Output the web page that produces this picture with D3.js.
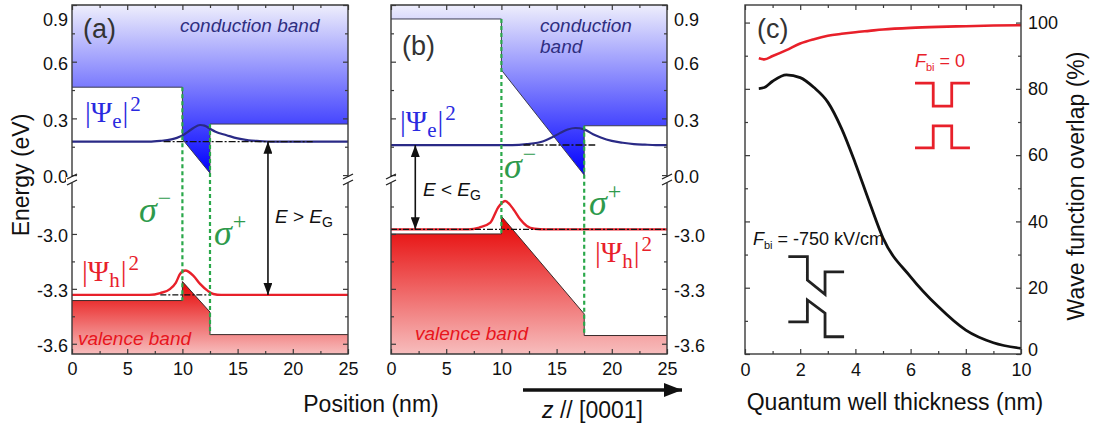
<!DOCTYPE html>
<html>
<head>
<meta charset="utf-8">
<script src="https://cdn.jsdelivr.net/npm/d3@7"></script>
<style>
  body { margin: 0; background: #fff; }
  svg { display: block; }
  text { font-family: "Liberation Sans", Arial, sans-serif; }
</style>
</head>
<body>
<svg id="fig" width="1100" height="426"></svg>
<script>
// ---- position / energy axes (panels a, b) ----
const posTicks = [0, 5, 10, 15, 20, 25];
const posMinor = [2.5, 7.5, 12.5, 17.5, 22.5];
const eTicksUpper = [0.0, 0.3, 0.6, 0.9];
const eMinorUpper = [0.15, 0.45, 0.75];
const eTicksLower = [-3.6, -3.3, -3.0];
const eMinorLower = [-3.45, -3.15, -2.85];

// ---- panel (a): no built-in field, 2.5 nm well ----
const cbA = [[0, 0.465], [10, 0.465], [10, 0.19], [12.5, 0.01], [12.5, 0.27], [25, 0.27]];
const vbA = [[0, -3.364], [10, -3.364], [10, -3.26], [12.5, -3.427], [12.5, -3.55], [25, -3.55]];
const levelEA = 0.177;
const levelHA = -3.333;
const psiEA = [[0, 0], [7, 0], [8, 0.004], [9, 0.012], [9.5, 0.02], [10, 0.032], [10.5, 0.052],
  [11, 0.072], [11.6, 0.088], [12, 0.085], [12.5, 0.068], [13, 0.052], [14, 0.034], [15, 0.017],
  [16, 0.007], [17, 0.003], [18, 0], [25, 0]];
const psiHA = [[0, 0], [7, 0], [8, 0.01], [8.9, 0.033], [9.4, 0.066], [9.8, 0.115], [10.26, 0.133],
  [11, 0.104], [11.6, 0.06], [12.3, 0.022], [12.8, 0.005], [13.5, 0], [25, 0]];

// ---- panel (b): built-in field, 7.5 nm well ----
const cbB = [[0, 0.826], [10, 0.826], [10, 0.556], [17.5, 0.0], [17.5, 0.261], [25, 0.261]];
const vbB = [[0, -3.0], [10, -3.0], [10, -2.903], [17.5, -3.437], [17.5, -3.555], [25, -3.555]];
const levelEB = 0.159;
const levelHB = -2.975;
const psiEB = [[0, 0], [11, 0], [12.3, 0.005], [13.8, 0.02], [14.5, 0.038], [15.3, 0.063], [16, 0.082],
  [16.7, 0.09], [17.5, 0.083], [18.3, 0.057], [19, 0.04], [20, 0.022], [21, 0.012], [22, 0.005],
  [23, 0.002], [24, 0], [25, 0]];
const psiHB = [[0, 0], [7, 0], [8, 0.01], [9, 0.037], [9.7, 0.119], [10.33, 0.155], [11.1, 0.109],
  [11.7, 0.055], [12.3, 0.018], [13, 0.003], [14, 0], [25, 0]];

// ---- panel (c): overlap vs. well thickness ----
const thickness = [0.5, 0.7, 1.0, 1.5, 2.0, 2.5, 3.0, 3.5, 4.0, 4.5, 5.0, 6.0, 7.0, 8.0, 9.0, 10.0];
const overlapNoField = [89.2, 88.9, 89.9, 91.7, 93.7, 95.0, 96.0, 96.6, 97.1, 97.5, 97.9, 98.4, 98.7, 98.9, 99.1, 99.2];
const overlapField = [80.1, 80.4, 82.3, 84.2, 83.4, 80.4, 76.0, 68.0, 57.5, 46.0, 35.0, 23.3, 14.3, 7.2, 3.4, 1.7];
const thickTicks = [0, 2, 4, 6, 8, 10];
const thickMinor = [1, 3, 5, 7, 9];
const overlapTicks = [0, 20, 40, 60, 80, 100];
const overlapMinor = [10, 30, 50, 70, 90];
// schematic band profiles drawn inside panel (c), in its own axis units
const iconFlatCB = [[6.16, 81.7], [6.82, 81.7], [6.82, 74.8], [7.49, 74.8], [7.49, 81.7], [8.15, 81.7]];
const iconFlatVB = [[6.16, 62.2], [6.82, 62.2], [6.82, 68.8], [7.49, 68.8], [7.49, 62.2], [8.15, 62.2]];
const iconFieldCB = [[1.57, 29.4], [2.26, 29.4], [2.26, 22.3], [2.90, 18.0], [2.90, 24.8], [3.59, 24.8]];
const iconFieldVB = [[1.57, 9.7], [2.26, 9.7], [2.26, 16.3], [2.90, 12.3], [2.90, 5.2], [3.59, 5.2]];

const BLUE_LINE = "#2a2a86";
const RED = "#e8202a";
const GREEN = "#2aa84a";
const FRAME = "#3a3a3a";

const svg = d3.select("#fig");
const defs = svg.append("defs");

function vGrad(id, top, bottom) {
  const g = defs.append("linearGradient").attr("id", id)
    .attr("x1", 0).attr("y1", 0).attr("x2", 0).attr("y2", 1);
  g.append("stop").attr("offset", 0).attr("stop-color", top);
  g.append("stop").attr("offset", 1).attr("stop-color", bottom);
}
vGrad("cbFill", "#eeeefc", "#0000ff");
vGrad("vbFill", "#e60000", "#f7bdbd");

defs.append("marker").attr("id", "tip").attr("viewBox", "0 0 12 9")
  .attr("refX", 12).attr("refY", 4.5).attr("markerWidth", 12).attr("markerHeight", 9)
  .attr("markerUnits", "userSpaceOnUse").attr("orient", "auto-start-reverse")
  .append("path").attr("d", "M0,0L12,4.5L0,9Z").attr("fill", "#111");
defs.append("marker").attr("id", "bigTip").attr("viewBox", "0 0 18 14")
  .attr("refX", 18).attr("refY", 7).attr("markerWidth", 18).attr("markerHeight", 14)
  .attr("markerUnits", "userSpaceOnUse").attr("orient", "auto")
  .append("path").attr("d", "M0,0L18,7L0,14Z").attr("fill", "#111");

// energy axis with a break between the conduction and valence band ranges
const eUp = d3.scaleLinear([-0.025, 0.9], [179.8, 5]);
const eLo = d3.scaleLinear([-3.656, -2.72], [354, 182.7]);
const yE = e => (e > -1.5 ? eUp(e) : eLo(e));
const BREAK_Y = 180;
const fmt1 = d => d.toFixed(1);

function styleAxis(sel, size) {
  sel.select(".domain").remove();
  sel.selectAll(".tick line").attr("stroke", FRAME).attr("stroke-width", 1.2);
  sel.selectAll(".tick text").attr("fill", "#111").style("font-size", size || "18px")
    .style("font-family", "Liberation Sans, Arial, sans-serif");
}

function breakMark(g, x) {
  g.append("rect").attr("x", x - 6).attr("y", BREAK_Y - 3).attr("width", 12).attr("height", 6).attr("fill", "#fff");
  [-3, 3].forEach(off => {
    g.append("line").attr("x1", x - 5).attr("y1", BREAK_Y + off + 2).attr("x2", x + 5).attr("y2", BREAK_Y + off - 3)
      .attr("stroke", "#222").attr("stroke-width", 1.3);
  });
}

function energyPanel(o) {
  const x = d3.scaleLinear([0, 25], o.range);
  const g = svg.append("g");
  const [x0, x1] = o.range;
  const yTop = eUp(0.9), yBot = eLo(-3.656);

  // band fills
  g.append("path").datum(o.cb)
    .attr("d", d3.area().x(d => x(d[0])).y0(yTop).y1(d => yE(d[1])))
    .attr("fill", "url(#cbFill)");
  g.append("path").datum(o.vb)
    .attr("d", d3.area().x(d => x(d[0])).y0(yBot).y1(d => yE(d[1])))
    .attr("fill", "url(#vbFill)");
  const edge = d3.line().x(d => x(d[0])).y(d => yE(d[1]));
  g.append("path").datum(o.cb).attr("d", edge).attr("fill", "none").attr("stroke", "#3c3c50").attr("stroke-width", 1);
  g.append("path").datum(o.vb).attr("d", edge).attr("fill", "none").attr("stroke", "#3a2a2a").attr("stroke-width", 1);

  // wave functions on their energy levels
  const psiLine = lvl => d3.line().x(d => x(d[0])).y(d => yE(lvl + d[1])).curve(d3.curveMonotoneX);
  g.append("path").datum(o.psiE).attr("d", psiLine(o.levelE)).attr("fill", "none")
    .attr("stroke", BLUE_LINE).attr("stroke-width", 2.2);
  g.append("path").datum(o.psiH).attr("d", psiLine(o.levelH)).attr("fill", "none")
    .attr("stroke", RED).attr("stroke-width", 2.4);

  // energy levels
  g.append("line").attr("x1", x(o.dashE[0])).attr("x2", x(o.dashE[1]))
    .attr("y1", yE(o.levelE)).attr("y2", yE(o.levelE))
    .attr("stroke", "#111").attr("stroke-width", 1.4).attr("stroke-dasharray", "7,2,2,2");
  g.append("line").attr("x1", x(o.dashH[0])).attr("x2", x(o.dashH[1]))
    .attr("y1", yE(o.levelH)).attr("y2", yE(o.levelH))
    .attr("stroke", "#111").attr("stroke-width", 1.4).attr("stroke-dasharray", "6,2,2,2");

  // well interfaces
  const steps = d3.groups(o.cb, d => d[0]).filter(([, v]) => v.length > 1).map(([p]) => p);
  steps.forEach(p => {
    const top = d3.max(o.cb.filter(d => d[0] === p), d => d[1]);
    const bot = d3.min(o.vb.filter(d => d[0] === p), d => d[1]);
    g.append("line").attr("x1", x(p)).attr("x2", x(p)).attr("y1", yE(top)).attr("y2", yE(bot))
      .attr("stroke", GREEN).attr("stroke-width", 2.2).attr("stroke-dasharray", "4,3");
  });

  // transition arrow
  g.append("line").attr("x1", x(o.arrowAt)).attr("x2", x(o.arrowAt))
    .attr("y1", yE(o.levelE)).attr("y2", yE(o.levelH))
    .attr("stroke", "#111").attr("stroke-width", 1.6)
    .attr("marker-start", "url(#tip)").attr("marker-end", "url(#tip)");

  // ticks (pointing inwards on all sides)
  const axes = [
    [d3.axisBottom(x).tickValues(posTicks).tickSize(-5).tickPadding(8), yBot, true],
    [d3.axisBottom(x).tickValues(posMinor).tickSize(-3).tickFormat(""), yBot, false],
    [d3.axisTop(x).tickValues(posTicks).tickSize(-5).tickFormat(""), yTop, false],
    [d3.axisTop(x).tickValues(posMinor).tickSize(-3).tickFormat(""), yTop, false]
  ];
  axes.forEach(([ax, y]) => g.append("g").attr("transform", `translate(0,${y})`).call(ax).call(styleAxis));
  const labelSide = o.labelsRight ? x1 : x0;
  [[x0, d3.axisLeft], [x1, d3.axisRight]].forEach(([xp, mk]) => {
    const lab = xp === labelSide;
    [[eUp, eTicksUpper, eMinorUpper], [eLo, eTicksLower, eMinorLower]].forEach(([sc, maj, mnr]) => {
      g.append("g").attr("transform", `translate(${xp},0)`)
        .call(mk(sc).tickValues(maj).tickSize(-5).tickPadding(lab ? (o.labelsRight ? 7 : 4) : 0)
          .tickFormat(lab ? fmt1 : ""))
        .call(styleAxis)
        .call(s => s.selectAll(".tick text").filter(d => d === 0.9).attr("dy", "1.05em"))
        .call(s => s.selectAll(".tick text").attr("transform", "translate(0,2)"));
      g.append("g").attr("transform", `translate(${xp},0)`)
        .call(mk(sc).tickValues(mnr).tickSize(-3).tickFormat("")).call(styleAxis);
    });
  });

  // frame
  g.append("path").attr("fill", "none").attr("stroke", FRAME).attr("stroke-width", 1.4)
    .attr("d", `M${x0},${BREAK_Y}V${yTop}H${x1}V${BREAK_Y}M${x0},${BREAK_Y}V${yBot}H${x1}V${BREAK_Y}`);
  breakMark(g, x0);
  breakMark(g, x1);
  return { g, x };
}

const A = energyPanel({ range: [72, 348], cb: cbA, vb: vbA, levelE: levelEA, levelH: levelHA,
  psiE: psiEA, psiH: psiHA, dashE: [8.3, 21.8], dashH: [8, 12.6], arrowAt: 17.75, labelsRight: false });
const B = energyPanel({ range: [391, 667], cb: cbB, vb: vbB, levelE: levelEB, levelH: levelHB,
  psiE: psiEB, psiH: psiHB, dashE: [12, 18.5], dashH: [0, 25], arrowAt: 2.2, labelsRight: true });

// ---- text annotations ----
function txt(x, y, s, opt = {}) {
  const t = svg.append("text").attr("x", x).attr("y", y).text(s)
    .attr("fill", opt.fill || "#111").style("font-size", (opt.size || 18) + "px");
  if (opt.italic) t.style("font-style", "italic");
  if (opt.anchor) t.attr("text-anchor", opt.anchor);
  if (opt.transform) t.attr("transform", opt.transform).attr("x", null).attr("y", null);
  return t;
}
function psiLabel(x, y, sub, color) {
  const t = svg.append("text").attr("x", x).attr("y", y).attr("fill", color)
    .style("font-family", "'Liberation Serif', 'DejaVu Serif', serif").style("font-size", "29px");
  t.append("tspan").text("|Ψ");
  t.append("tspan").style("font-size", "21px").attr("dy", 6).text(sub);
  t.append("tspan").attr("dy", -6).attr("dx", 1).text("|");
  t.append("tspan").style("font-size", "21px").attr("dy", -11).attr("dx", 2).text("2");
}
function sigmaLabel(x, y, sign) {
  const t = svg.append("text").attr("x", x).attr("y", y).attr("fill", "#2e9a4c")
    .style("font-family", "'Liberation Serif', 'DejaVu Serif', serif");
  t.append("tspan").style("font-size", "36px").style("font-style", "italic").text("σ");
  t.append("tspan").style("font-size", "24px").attr("dy", -16).attr("dx", 1).text(sign);
}
function gapLabel(x, y, rel) {
  const t = svg.append("text").attr("x", x).attr("y", y).attr("fill", "#111").style("font-size", "19px");
  t.append("tspan").style("font-style", "italic").text("E");
  t.append("tspan").text(` ${rel} `);
  t.append("tspan").style("font-style", "italic").text("E");
  t.append("tspan").style("font-size", "14px").attr("dy", 4).text("G");
}

// panel (a)
txt(83, 38, "(a)", { size: 27, fill: "#333" });
txt(180, 32, "conduction band", { size: 19, italic: true, fill: "#2e2e80" });
txt(78, 345, "valence band", { size: 19, italic: true, fill: "#e8141c" });
psiLabel(85, 122, "e", "#2a2ae0");
psiLabel(82, 281, "h", RED);
sigmaLabel(139, 222, "−");
sigmaLabel(214, 245, "+");
gapLabel(275, 223, ">");

// panel (b)
txt(402, 55, "(b)", { size: 27, fill: "#333" });
txt(540, 32, "conduction", { size: 19, italic: true, fill: "#2e2e80" });
txt(540, 53, "band", { size: 19, italic: true, fill: "#2e2e80" });
txt(415, 340, "valence band", { size: 19, italic: true, fill: "#e8141c" });
psiLabel(400, 131, "e", "#2a2ae0");
psiLabel(595, 262, "h", RED);
sigmaLabel(504, 178, "−");
sigmaLabel(589, 215, "+");
gapLabel(423, 196, "<");

// shared titles
txt(0, 0, "Energy (eV)", { size: 23, anchor: "middle", transform: "translate(29,175) rotate(-90)" });
txt(371, 412, "Position (nm)", { size: 23, anchor: "middle" });

// growth direction arrow
svg.append("line").attr("x1", 523).attr("x2", 682).attr("y1", 390).attr("y2", 390)
  .attr("stroke", "#111").attr("stroke-width", 3.5).attr("marker-end", "url(#bigTip)");
{
  const t = svg.append("text").attr("x", 542).attr("y", 418).attr("fill", "#111").style("font-size", "23px");
  t.append("tspan").style("font-style", "italic").text("z");
  t.append("tspan").text(" // [0001]");
}

// ---- panel (c) ----
{
  const xC = d3.scaleLinear([0, 10], [745, 1021]);
  const yC = d3.scaleLinear([0, 105.3], [354, 5]);
  const g = svg.append("g");
  const [x0, x1] = xC.range();
  const [yb, yt] = yC.range();

  const ln = d3.line().x(d => xC(d[0])).y(d => yC(d[1])).curve(d3.curveMonotoneX);
  g.append("path").datum(d3.zip(thickness, overlapNoField)).attr("d", ln)
    .attr("fill", "none").attr("stroke", RED).attr("stroke-width", 2.6);
  g.append("path").datum(d3.zip(thickness, overlapField)).attr("d", ln)
    .attr("fill", "none").attr("stroke", "#111").attr("stroke-width", 2.8);

  const icon = d3.line().x(d => xC(d[0])).y(d => yC(d[1]));
  [iconFlatCB, iconFlatVB].forEach(p => g.append("path").datum(p).attr("d", icon)
    .attr("fill", "none").attr("stroke", RED).attr("stroke-width", 2.8));
  [iconFieldCB, iconFieldVB].forEach(p => g.append("path").datum(p).attr("d", icon)
    .attr("fill", "none").attr("stroke", "#222").attr("stroke-width", 2.8));

  const axes = [
    [d3.axisBottom(xC).tickValues(thickTicks).tickSize(-5).tickPadding(9), `translate(0,${yb})`],
    [d3.axisBottom(xC).tickValues(thickMinor).tickSize(-3).tickFormat(""), `translate(0,${yb})`],
    [d3.axisTop(xC).tickValues(thickTicks).tickSize(-5).tickFormat(""), `translate(0,${yt})`],
    [d3.axisTop(xC).tickValues(thickMinor).tickSize(-3).tickFormat(""), `translate(0,${yt})`],
    [d3.axisRight(yC).tickValues(overlapTicks).tickSize(-5).tickPadding(7), `translate(${x1},0)`],
    [d3.axisRight(yC).tickValues(overlapMinor).tickSize(-3).tickFormat(""), `translate(${x1},0)`],
    [d3.axisLeft(yC).tickValues(overlapTicks).tickSize(-5).tickFormat(""), `translate(${x0},0)`],
    [d3.axisLeft(yC).tickValues(overlapMinor).tickSize(-3).tickFormat(""), `translate(${x0},0)`]
  ];
  axes.forEach(([ax, tr]) => g.append("g").attr("transform", tr).call(ax).call(styleAxis));
  // lowest right-hand label sits a little higher, clear of the bottom tick labels
  g.selectAll(".tick text").filter(function (d) { return d === 0 && this.getAttribute("x") > 0; })
    .attr("dy", "0.1em");
  g.append("rect").attr("x", x0).attr("y", yt).attr("width", x1 - x0).attr("height", yb - yt)
    .attr("fill", "none").attr("stroke", FRAME).attr("stroke-width", 1.4);

  txt(757, 38, "(c)", { size: 27, fill: "#333" });
  {
    const t = svg.append("text").attr("x", 915).attr("y", 67).attr("fill", RED).style("font-size", "18px");
    t.append("tspan").style("font-style", "italic").text("F");
    t.append("tspan").style("font-size", "11px").attr("dy", 4).text("bi");
    t.append("tspan").attr("dy", -4).text(" = 0");
  }
  {
    const t = svg.append("text").attr("x", 753).attr("y", 245).attr("fill", "#111").style("font-size", "18px");
    t.append("tspan").style("font-style", "italic").text("F");
    t.append("tspan").style("font-size", "11px").attr("dy", 4).text("bi");
    t.append("tspan").attr("dy", -4).text(" = -750 kV/cm");
  }
  txt(895, 410, "Quantum well thickness (nm)", { size: 23, anchor: "middle" });
  txt(0, 0, "Wave function overlap (%)", { size: 23, anchor: "middle", transform: "translate(1084,186) rotate(-90)" });
}
</script>
</body>
</html>
